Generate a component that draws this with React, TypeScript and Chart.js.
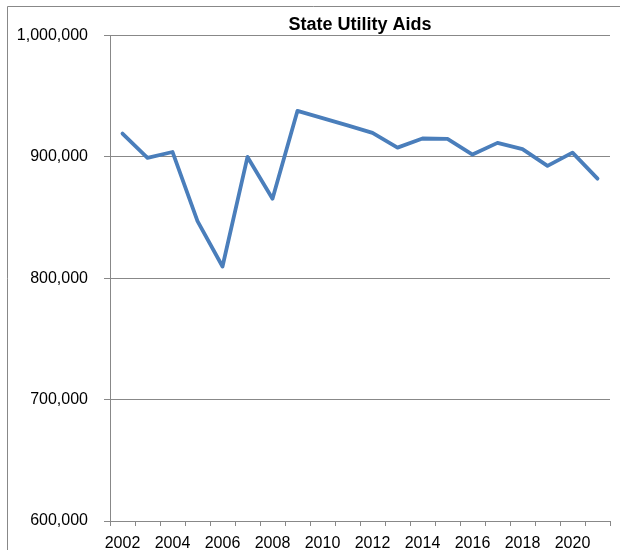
import React, { useEffect, useRef } from "react";
import { Chart, registerables } from "chart.js";

Chart.register(...registerables);

const years: string[] = [
  "2002", "2003", "2004", "2005", "2006", "2007", "2008", "2009", "2010", "2011",
  "2012", "2013", "2014", "2015", "2016", "2017", "2018", "2019", "2020", "2021",
];

const utilityAids: number[] = [
  919300, 899200, 904100, 847100, 809700, 900000, 865600, 938000, 932000, 926000,
  919800, 907700, 915200, 914900, 902000, 911600, 906400, 892600, 903600, 882100,
];

const chartTitle = "State Utility Aids";
const yMin = 600000;
const yMax = 1000000;
const yStep = 100000;

const gray = "#888888";
const font = "'Liberation Sans', Arial, sans-serif";

const framePlugin = {
  id: "frame",
  beforeDraw(chart: any) {
    const ctx = chart.ctx;
    ctx.save();
    ctx.strokeStyle = gray;
    ctx.lineWidth = 1;
    ctx.beginPath();
    ctx.moveTo(7.5, chart.height);
    ctx.lineTo(7.5, 6.5);
    ctx.lineTo(chart.width, 6.5);
    ctx.stroke();
    ctx.restore();
  },
};

export default function App() {
  const ref = useRef<HTMLCanvasElement | null>(null);

  useEffect(() => {
    if (!ref.current) return;
    const chart = new Chart(ref.current, {
      type: "line",
      data: {
        labels: years,
        datasets: [
          {
            label: chartTitle,
            data: utilityAids,
            borderColor: "#4a7ebb",
            backgroundColor: "#4a7ebb",
            borderWidth: 3.8,
            pointRadius: 0,
            pointHoverRadius: 0,
            tension: 0,
            borderJoinStyle: "round",
            borderCapStyle: "round",
          },
        ],
      },
      options: {
        animation: false,
        responsive: false,
        devicePixelRatio: 1,
        layout: { padding: { left: 8, right: 10, top: 0, bottom: 0 } },
        plugins: {
          legend: { display: false },
          tooltip: { enabled: false },
          title: {
            display: true,
            text: chartTitle,
            fullSize: false,
            color: "#000",
            font: { family: font, size: 18, weight: "bold", lineHeight: 1.2 },
            padding: { top: 14, bottom: 0 },
          },
        },
        scales: {
          x: {
            offset: true,
            grid: {
              offset: true,
              drawOnChartArea: false,
              drawTicks: true,
              tickLength: 5,
              color: gray,
            },
            border: { display: true, color: gray, width: 1 },
            ticks: {
              autoSkip: false,
              maxRotation: 0,
              color: "#000",
              padding: 10,
              font: { family: font, size: 16, lineHeight: 1 },
              callback: (_v: any, i: number) => (i % 2 === 0 ? years[i] : ""),
            },
            afterFit: (s: any) => {
              s.height = 29;
            },
          },
          y: {
            min: yMin,
            max: yMax,
            grid: {
              color: gray,
              drawTicks: true,
              tickLength: 6,
            },
            border: { display: true, color: gray, width: 1 },
            ticks: {
              stepSize: yStep,
              color: "#000",
              padding: 16,
              font: { family: font, size: 16 },
              callback: (v: any) => Number(v).toLocaleString("en-US"),
            },
            afterFit: (s: any) => {
              s.width = 102;
            },
          },
        },
      },
      plugins: [framePlugin],
    });
    return () => chart.destroy();
  }, []);

  return (
    <div style={{ position: "fixed", left: 0, top: 0, width: 620, height: 550, background: "#fff" }}>
      <canvas ref={ref} width={620} height={550} style={{ width: 620, height: 550, display: "block" }} />
    </div>
  );
}
